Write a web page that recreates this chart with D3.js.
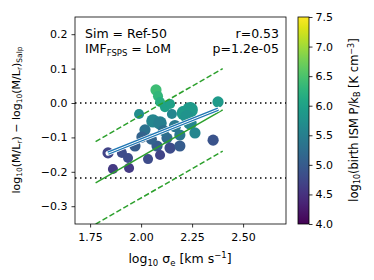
<!DOCTYPE html>
<html><head><meta charset="utf-8">
<script src="https://cdn.jsdelivr.net/npm/d3@7"></script>
<style>body{margin:0;background:#fff}svg{display:block;font-family:"DejaVu Sans",sans-serif}</style>
</head><body>
<svg id="c" width="374" height="280"></svg>
<script>
// data
const sigma = [2.073,2.083,2.093,2.117,2.142,2.24,2.21,2.377,1.99,2.151,2.058,2.093,2.019,2.264,2.19,2.127,2.004,2.353,1.97,2.078,2.142,2.19,1.838,1.906,1.936,2.034,2.093,1.862,1.941,2.166,2.24,2.05,2.225,2.11];
const dML   = [0.038,0.020,0.003,-0.012,-0.003,-0.020,-0.029,0.003,-0.032,-0.032,-0.052,-0.058,-0.078,-0.087,-0.093,-0.102,-0.099,-0.108,-0.125,-0.125,-0.131,-0.125,-0.145,-0.145,-0.160,-0.163,-0.151,-0.192,-0.189,-0.067,-0.058,-0.105,-0.040,-0.080];
const pBirth= [6.4,6.3,6.2,6.0,6.0,5.9,5.9,5.9,5.7,5.6,5.6,5.5,5.3,5.6,5.4,5.2,5.1,4.9,5.0,5.0,4.8,5.0,4.7,4.8,4.8,4.8,4.7,4.6,4.6,5.4,5.6,5.1,5.8,5.3];
const mass  = [1.0,0.9,0.9,0.9,0.9,1.4,1.3,1.0,0.9,0.9,1.2,1.2,1.0,1.0,1.0,1.0,1.0,1.0,1.0,1.0,1.0,1.0,1.0,0.9,0.9,0.9,0.9,0.9,0.9,1.1,1.2,1.0,1.2,1.0];
const fitX = [1.777, 2.40];
const fitY = [-0.232, -0.020];
const scatterOff = 0.12;
const medX = [1.838, 2.378];
const medY = [-0.146, -0.018];
const refLines = [0.0, -0.218];
const xTicks = [1.75, 2.00, 2.25, 2.50];
const yTicks = [0.2, 0.1, 0.0, -0.1, -0.2, -0.3];
const cTicks = [4.0, 4.5, 5.0, 5.5, 6.0, 6.5, 7.0, 7.5];

const svg = d3.select("#c");
const L=75, R=286, T=17, B=224;
const x = d3.scaleLinear().domain([1.676, 2.7103]).range([L, R]);
const y = d3.scaleLinear().domain([-0.3517, 0.25]).range([B, T]);
const cmap = d3.scaleSequential(d3.interpolateViridis).domain([4.0, 7.5]);

const defs = svg.append("defs");
defs.append("clipPath").attr("id","clip").append("rect").attr("x",L).attr("y",T).attr("width",R-L).attr("height",B-T);
const g = svg.append("g").attr("clip-path","url(#clip)");

// reference dotted lines
refLines.forEach(v=>{
  g.append("line").attr("x1",L).attr("x2",R).attr("y1",y(v)).attr("y2",y(v))
   .attr("stroke","#000").attr("stroke-width",1.5).attr("stroke-dasharray","1.5,3.5");
});

// points
const idx = d3.range(sigma.length);
g.selectAll("circle").data(idx).enter().append("circle")
  .attr("cx",i=>x(sigma[i])).attr("cy",i=>y(dML[i])).attr("r",i=>5.6*mass[i])
  .attr("fill",i=>cmap(pBirth[i]));

// green fit lines
const line = d3.line().x(d=>x(d[0])).y(d=>y(d[1]));
[0, scatterOff, -scatterOff].forEach((o,k)=>{
  g.append("path").attr("d", line(fitX.map((v,i)=>[v, fitY[i]+o])))
   .attr("fill","none").attr("stroke","#2ca02c").attr("stroke-width",1.5)
   .attr("stroke-dasharray", k===0 ? null : "5.5,2.5");
});

// blue median line with white outline
const mp = medX.map((v,i)=>[v, medY[i]]);
g.append("path").attr("d",line(mp)).attr("stroke","#fff").attr("stroke-width",5).attr("stroke-linecap","round").attr("fill","none");
g.append("path").attr("d",line(mp)).attr("stroke","#1f77b4").attr("stroke-width",3.5).attr("stroke-linecap","butt").attr("fill","none");
g.append("path").attr("d",line(mp)).attr("stroke","#fff").attr("stroke-width",1).attr("fill","none");

// axes
const xa = svg.append("g").attr("transform",`translate(0,${B})`)
  .call(d3.axisBottom(x).tickValues(xTicks).tickFormat(d3.format(".2f")).tickSize(3.5).tickSizeOuter(0));
const ya = svg.append("g").attr("transform",`translate(${L},0)`)
  .call(d3.axisLeft(y).tickValues(yTicks).tickFormat(d=>d3.format(".1f")(d).replace("-","\u2212")).tickSize(3.5).tickSizeOuter(0));
[xa,ya].forEach(a=>{a.select(".domain").remove();a.selectAll("text").attr("font-size",11).attr("fill","#000").attr("font-family","DejaVu Sans");a.selectAll("line").attr("stroke","#000").attr("stroke-width",0.8);});
xa.selectAll("text").attr("dy","0.95em");
ya.selectAll("text").attr("dx","-0.1em");
svg.append("rect").attr("x",L).attr("y",T).attr("width",R-L).attr("height",B-T).attr("fill","none").attr("stroke","#000").attr("stroke-width",0.8);

// annotations
const fs = 12.5, fss = 8.5;
svg.append("text").attr("x",85).attr("y",38).attr("font-size",fs).text("Sim = Ref-50");
const t2 = svg.append("text").attr("x",85).attr("y",53).attr("font-size",fs);
t2.append("tspan").text("IMF");
t2.append("tspan").attr("font-size",fss).attr("dy",2.5).text("FSPS");
t2.append("tspan").attr("dy",-2.5).text(" = LoM");
svg.append("text").attr("x",279).attr("y",38).attr("text-anchor","end").attr("font-size",fs).text("r=0.53");
svg.append("text").attr("x",279).attr("y",53).attr("text-anchor","end").attr("font-size",fs).text("p=1.2e-05");

// axis labels
const xl = svg.append("text").attr("x",180).attr("y",263).attr("text-anchor","middle").attr("font-size",12.5);
xl.append("tspan").text("log");
xl.append("tspan").attr("font-size",fss).attr("dy",2.5).text("10");
xl.append("tspan").attr("dy",-2.5).text(" σ");
xl.append("tspan").attr("font-size",fss).attr("dy",2.5).text("e");
xl.append("tspan").attr("dy",-2.5).text(" [km s");
xl.append("tspan").attr("font-size",fss).attr("dy",-5).text("−1");
xl.append("tspan").attr("dy",5).text("]");

const yl = svg.append("text").attr("transform","translate(20,120) rotate(-90)").attr("text-anchor","middle").attr("font-size",11);
yl.append("tspan").text("log");
yl.append("tspan").attr("font-size",7.5).attr("dy",2).text("10");
yl.append("tspan").attr("dy",-2).text("(M/L");
yl.append("tspan").attr("font-size",7.5).attr("dy",2).text("r");
yl.append("tspan").attr("dy",-2).text(") − log");
yl.append("tspan").attr("font-size",7.5).attr("dy",2).text("10");
yl.append("tspan").attr("dy",-2).text("(M/L");
yl.append("tspan").attr("font-size",7.5).attr("dy",2).text("r");
yl.append("tspan").attr("dy",-2).text(")");
yl.append("tspan").attr("font-size",7.5).attr("dy",2).text("Salp");

// colorbar
const CL=298, CW=11;
const cy = d3.scaleLinear().domain([4.0,7.5]).range([B,T]);
const grad = defs.append("linearGradient").attr("id","vir").attr("x1",0).attr("y1",1).attr("x2",0).attr("y2",0);
d3.range(0,1.0001,0.05).forEach(t=>grad.append("stop").attr("offset",t).attr("stop-color",d3.interpolateViridis(t)));
svg.append("rect").attr("x",CL).attr("y",T).attr("width",CW).attr("height",B-T).attr("fill","url(#vir)").attr("stroke","#000").attr("stroke-width",0.8);
const ca = svg.append("g").attr("transform",`translate(${CL+CW},0)`)
  .call(d3.axisRight(cy).tickValues(cTicks).tickFormat(d3.format(".1f")).tickSize(3.5).tickSizeOuter(0));
ca.select(".domain").remove();
ca.selectAll("text").attr("font-size",11).attr("fill","#000").attr("font-family","DejaVu Sans");
ca.selectAll("line").attr("stroke","#000").attr("stroke-width",0.8);

const cl = svg.append("text").attr("transform","translate(358,120) rotate(-90)").attr("text-anchor","middle").attr("font-size",11.5);
cl.append("tspan").text("log");
cl.append("tspan").attr("font-size",8).attr("dy",2).text("10");
cl.append("tspan").attr("dy",-2).text("(birth ISM P/k");
cl.append("tspan").attr("font-size",8).attr("dy",2).text("B");
cl.append("tspan").attr("dy",-2).text(" [K cm");
cl.append("tspan").attr("font-size",8).attr("dy",-4).text("−3");
cl.append("tspan").attr("dy",4).text("]");
</script>
</body></html>
